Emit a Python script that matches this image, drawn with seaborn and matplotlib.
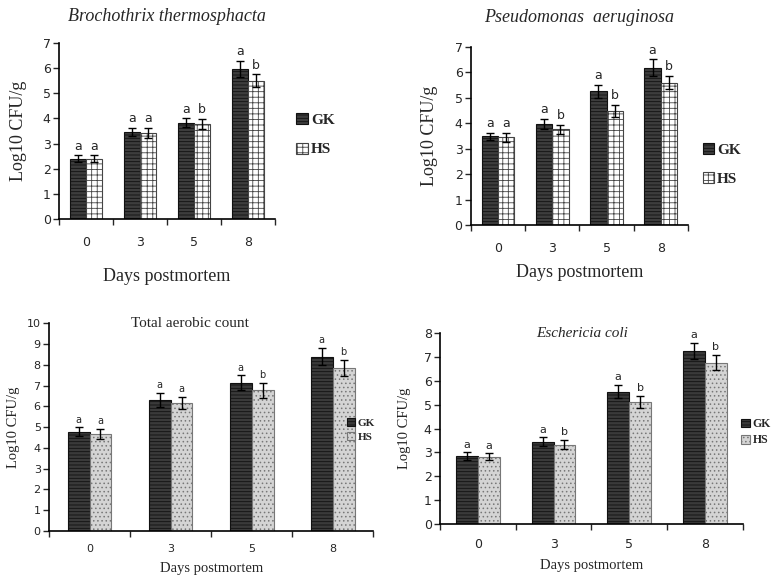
import pandas as pd
import seaborn as sns
import matplotlib.pyplot as plt
from matplotlib.patches import Patch

# ----------------------------
# Data
# ----------------------------
days = ["0", "3", "5", "8"]
groups = ["GK", "HS"]

# Brochothrix thermosphacta
bt_gk = [2.40, 3.46, 3.82, 5.97]
bt_hs = [2.40, 3.42, 3.78, 5.50]
bt_gk_err = [0.13, 0.17, 0.18, 0.32]
bt_hs_err = [0.13, 0.20, 0.20, 0.25]
bt_gk_sig = ["a", "a", "a", "a"]
bt_hs_sig = ["a", "a", "b", "b"]

# Pseudomonas aeruginosa
pa_gk = [3.48, 3.97, 5.25, 6.18]
pa_hs = [3.45, 3.77, 4.48, 5.60]
pa_gk_err = [0.15, 0.20, 0.26, 0.33]
pa_hs_err = [0.18, 0.18, 0.25, 0.27]
pa_gk_sig = ["a", "a", "a", "a"]
pa_hs_sig = ["a", "b", "b", "b"]

# Total aerobic count
tac_gk = [4.77, 6.30, 7.14, 8.39]
tac_hs = [4.68, 6.17, 6.78, 7.83]
tac_gk_err = [0.22, 0.34, 0.35, 0.42]
tac_hs_err = [0.24, 0.29, 0.36, 0.39]
tac_gk_sig = ["a", "a", "a", "a"]
tac_hs_sig = ["a", "a", "b", "b"]

# Eschericia coli
ec_gk = [2.85, 3.45, 5.55, 7.26]
ec_hs = [2.82, 3.33, 5.12, 6.76]
ec_gk_err = [0.15, 0.18, 0.29, 0.34]
ec_hs_err = [0.14, 0.18, 0.26, 0.32]
ec_gk_sig = ["a", "a", "a", "a"]
ec_hs_sig = ["a", "b", "b", "b"]

# ----------------------------
# Style
# ----------------------------
sns.set_style("white")
plt.rcParams["font.family"] = ["DejaVu Sans"]
plt.rcParams["hatch.linewidth"] = 0.6
SERIF = "Liberation Serif"

top_styles = [
    dict(facecolor="#3d3d3d", hatch="-----", edgecolor="#111111"),
    dict(facecolor="white", hatch="+++", edgecolor="#444444"),
]
bottom_styles = [
    dict(facecolor="#3a3a3a", hatch="-----", edgecolor="#111111"),
    dict(facecolor="#d4d4d4", hatch="....", edgecolor="#777777"),
]


def draw_panel(ax, gk, hs, gk_err, hs_err, gk_sig, hs_sig, styles, width,
               ymax, tick_fs, sig_fs):
    df = pd.DataFrame({
        "day": days * 2,
        "group": ["GK"] * 4 + ["HS"] * 4,
        "value": gk + hs,
    })
    sns.barplot(data=df, x="day", y="value", hue="group", order=days,
                hue_order=groups, width=width, errorbar=None, legend=False,
                ax=ax)
    errs = [gk_err, hs_err]
    sigs = [gk_sig, hs_sig]
    bar_containers = list(ax.containers)
    for ci, cont in enumerate(bar_containers):
        for bi, bar in enumerate(cont.patches):
            bar.set_facecolor(styles[ci]["facecolor"])
            bar.set_hatch(styles[ci]["hatch"])
            bar.set_edgecolor(styles[ci]["edgecolor"])
            bar.set_linewidth(0.8)
            xc = bar.get_x() + bar.get_width() / 2
            h = bar.get_height()
            ax.errorbar(xc, h, yerr=errs[ci][bi], color="black", lw=1,
                        capsize=3, capthick=1)
            ax.annotate(sigs[ci][bi], (xc, h + errs[ci][bi]),
                        xytext=(0, 2), textcoords="offset points",
                        ha="center", va="bottom", fontsize=sig_fs)
    ax.set_ylim(0, ymax)
    ax.set_xlim(-0.5, 3.5)
    ax.set_yticks(range(0, ymax + 1))
    ax.set_xticks([-0.5, 0.5, 1.5, 2.5, 3.5], minor=True)
    ax.tick_params(axis="x", which="major", length=0, labelsize=tick_fs)
    ax.tick_params(axis="x", which="minor", length=4, width=1,
                   direction="out", bottom=True)
    ax.tick_params(axis="y", length=4, width=1, direction="out", left=True,
                   labelsize=tick_fs, pad=2)
    for side in ["top", "right"]:
        ax.spines[side].set_visible(False)
    for side in ["left", "bottom"]:
        ax.spines[side].set_color("black")
        ax.spines[side].set_linewidth(1.2)


def add_legend(ax, styles, x, y, fs, spacing):
    handles = [Patch(label=g, linewidth=0.8, **s) for g, s in zip(groups, styles)]
    ax.legend(handles=handles, loc="center left", bbox_to_anchor=(x, y),
              frameon=False, handlelength=0.75, handleheight=0.75,
              handletextpad=0.2, labelspacing=spacing, borderaxespad=0,
              prop={"family": SERIF, "weight": "bold", "size": fs})


# ----------------------------
# Plot
# ----------------------------
fig = plt.figure(figsize=(7.72, 5.82), dpi=100)

# Brochothrix thermosphacta
ax1 = fig.add_axes([0.0764, 0.6237, 0.280, 0.3024])
draw_panel(ax1, bt_gk, bt_hs, bt_gk_err, bt_hs_err, bt_gk_sig, bt_hs_sig,
           top_styles, 0.6, 7, 9, 9)
ax1.tick_params(axis="x", which="major", pad=12)
ax1.set_title("Brochothrix thermosphacta", family=SERIF, style="italic",
              fontsize=13, pad=16)
ax1.set_xlabel("Days postmortem", family=SERIF, fontsize=13, labelpad=14)
ax1.set_ylabel("Log10 CFU/g", family=SERIF, fontsize=13, labelpad=11)
add_legend(ax1, top_styles, 1.07, 0.48, 11, 1.05)

# Pseudomonas aeruginosa
ax2 = fig.add_axes([0.610, 0.6134, 0.281, 0.306])
draw_panel(ax2, pa_gk, pa_hs, pa_gk_err, pa_hs_err, pa_gk_sig, pa_hs_sig,
           top_styles, 0.6, 7, 9, 9)
ax2.tick_params(axis="x", which="major", pad=12)
ax2.set_title("Pseudomonas  aeruginosa", family=SERIF, style="italic",
              fontsize=13, pad=18)
ax2.set_xlabel("Days postmortem", family=SERIF, fontsize=13, labelpad=7)
ax2.set_ylabel("Log10 CFU/g", family=SERIF, fontsize=13, labelpad=12)
add_legend(ax2, top_styles, 1.04, 0.34, 11, 0.95)

# Total aerobic count
ax3 = fig.add_axes([0.0635, 0.0876, 0.420, 0.357])
draw_panel(ax3, tac_gk, tac_hs, tac_gk_err, tac_hs_err, tac_gk_sig,
           tac_hs_sig, bottom_styles, 0.54, 10, 8, 7)
ax3.tick_params(axis="x", which="major", pad=9)
ax3.text(0.435, 1.0, "Total aerobic count", transform=ax3.transAxes,
         ha="center", va="center", family=SERIF, fontsize=11)
ax3.set_xlabel("Days postmortem", family=SERIF, fontsize=10.5, labelpad=6)
ax3.set_ylabel("Log10 CFU/g", family=SERIF, fontsize=10.5, labelpad=5)
add_legend(ax3, bottom_styles, 0.905, 0.486, 8, 0.35)

# Eschericia coli
ax4 = fig.add_axes([0.570, 0.0997, 0.392, 0.328])
draw_panel(ax4, ec_gk, ec_hs, ec_gk_err, ec_hs_err, ec_gk_sig, ec_hs_sig,
           bottom_styles, 0.58, 8, 9, 8)
ax4.tick_params(axis="x", which="major", pad=10)
ax4.text(0.47, 1.0, "Eschericia coli", transform=ax4.transAxes,
         ha="center", va="center", family=SERIF, style="italic", fontsize=11)
ax4.set_xlabel("Days postmortem", family=SERIF, fontsize=10.5, labelpad=6)
ax4.set_ylabel("Log10 CFU/g", family=SERIF, fontsize=10.5, labelpad=9)
add_legend(ax4, bottom_styles, 0.98, 0.48, 8.5, 0.35)

fig.savefig("out.png", dpi=100)
